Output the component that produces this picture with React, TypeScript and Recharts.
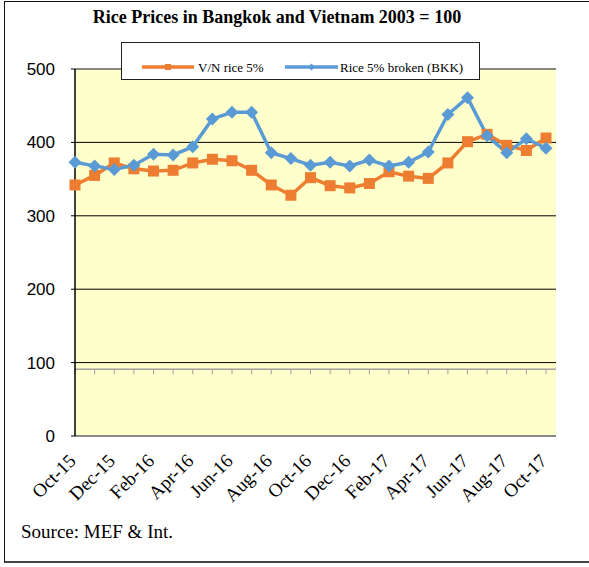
import React from 'react';
import { LineChart, Line, XAxis, YAxis, CartesianGrid, ReferenceLine } from 'recharts';

const months = [
  'Oct-15', 'Nov-15', 'Dec-15', 'Jan-16', 'Feb-16', 'Mar-16', 'Apr-16', 'May-16', 'Jun-16',
  'Jul-16', 'Aug-16', 'Sep-16', 'Oct-16', 'Nov-16', 'Dec-16', 'Jan-17', 'Feb-17', 'Mar-17',
  'Apr-17', 'May-17', 'Jun-17', 'Jul-17', 'Aug-17', 'Sep-17', 'Oct-17',
];
const vnRice = [342, 355, 372, 364, 361, 362, 372, 377, 375, 362, 342, 328, 352, 341, 338, 344, 360, 354, 351, 372, 401, 411, 396, 389, 406];
const bkkRice = [373, 368, 363, 369, 384, 383, 394, 432, 441, 441, 386, 378, 369, 373, 368, 376, 368, 373, 387, 438, 461, 409, 386, 405, 392];
const yTicks = [0, 100, 200, 300, 400, 500];
const seriesNames = ['V/N rice 5%', 'Rice 5% broken (BKK)'];
const titleText = 'Rice Prices in Bangkok and Vietnam 2003 = 100';
const sourceText = 'Source: MEF & Int.';
const crossLevel = 91;
const crossTickLow = 84;

const ORANGE = '#ED7D31';
const BLUE = '#5B9BD5';
const SERIF = '"Liberation Serif", "Times New Roman", serif';
const SANS = '"Liberation Sans", Arial, sans-serif';

const data = months.map((m, i) => ({ month: m, vn: vnRice[i], bkk: bkkRice[i] }));

const SquareDot = (props: any) => {
  const { cx, cy, index } = props;
  if (cx == null || cy == null) return <g key={`s${index}`} />;
  return <rect key={`s${index}`} x={cx - 5.5} y={cy - 5.5} width={11} height={11} fill={ORANGE} />;
};

const DiamondDot = (props: any) => {
  const { cx, cy, index } = props;
  if (cx == null || cy == null) return <g key={`d${index}`} />;
  const r = 6.5;
  return (
    <polygon
      key={`d${index}`}
      points={`${cx},${cy - r} ${cx + r},${cy} ${cx},${cy + r} ${cx - r},${cy}`}
      fill={BLUE}
    />
  );
};

const XTick = (props: any) => {
  const { x, y, payload } = props;
  return (
    <text
      x={0}
      y={0}
      transform={`translate(${x + 2},${y + 18}) rotate(-45)`}
      textAnchor="end"
      fontFamily={SERIF}
      fontSize={19}
      fill="#000"
    >
      {payload.value}
    </text>
  );
};

const LegendBox = () => (
  <div
    style={{
      position: 'absolute',
      left: 121,
      top: 42,
      width: 357,
      height: 36,
      border: '1px solid #222',
      background: '#fff',
      boxSizing: 'content-box',
    }}
  >
    <svg width={357} height={36} style={{ position: 'absolute', left: 0, top: 0 }}>
      <line x1={20} y1={24} x2={72} y2={24} stroke={ORANGE} strokeWidth={3.5} />
      <rect x={43} y={21} width={6} height={6} fill={ORANGE} />
      <text x={76} y={28.5} fontFamily={SERIF} fontSize={13} fill="#000">{seriesNames[0]}</text>
      <line x1={163} y1={24} x2={216} y2={24} stroke={BLUE} strokeWidth={3.5} />
      <polygon points="189.5,20.5 193,24 189.5,27.5 186,24" fill={BLUE} />
      <text x={218} y={28.5} fontFamily={SERIF} fontSize={13} fill="#000">{seriesNames[1]}</text>
    </svg>
  </div>
);

export default function App() {
  return (
    <div style={{ position: 'absolute', left: 0, top: 0, width: 589, height: 567, background: '#fff', overflow: 'hidden' }}>
      <div
        style={{
          position: 'absolute',
          left: 4,
          top: 1,
          width: 620,
          height: 559,
          borderLeft: '1px solid #111',
          borderTop: '1px solid #111',
          borderBottom: '2px solid #444',
        }}
      />
      <div
        style={{
          position: 'absolute',
          left: 0,
          width: 554,
          top: 8,
          textAlign: 'center',
          fontFamily: SERIF,
          fontWeight: 'bold',
          fontSize: 18,
          lineHeight: '18px',
          color: '#000',
          whiteSpace: 'nowrap',
        }}
      >
        {titleText}
      </div>
      <div style={{ position: 'absolute', left: 0, top: 0 }}>
        <LineChart width={589} height={567} data={data} margin={{ top: 69, right: 33, bottom: 71, left: 0 }}>
          <CartesianGrid vertical={false} stroke="#000" strokeWidth={1} fill="#FFFFCC" fillOpacity={1} />
          <XAxis
            dataKey="month"
            interval={1}
            height={60}
            tick={<XTick />}
            tickLine={false}
            axisLine={{ stroke: '#8a8a8a', strokeWidth: 2 }}
            padding={{ left: 0, right: 10 }}
          />
          <YAxis
            yAxisId={0}
            width={75}
            domain={[0, 500]}
            ticks={yTicks}
            interval={0}
            tickSize={4}
            tickMargin={16}
            tickLine={{ stroke: '#000' }}
            axisLine={{ stroke: '#000', strokeWidth: 1.5 }}
            tick={{ fontFamily: SANS, fontSize: 17, fill: '#000' }}
          />
          <YAxis
            yAxisId="right"
            orientation="right"
            width={0}
            domain={[0, 500]}
            ticks={yTicks}
            tick={false}
            tickLine={false}
            axisLine={{ stroke: '#8a8a8a', strokeWidth: 2 }}
          />
          <ReferenceLine yAxisId={0} y={500} stroke="#8a8a8a" strokeWidth={1.5} />
          <ReferenceLine yAxisId={0} y={crossLevel} stroke="#a0a0a0" strokeWidth={1.5} />
          {months.map((m) => (
            <ReferenceLine
              key={`t-${m}`}
              yAxisId={0}
              segment={[{ x: m, y: crossLevel }, { x: m, y: crossTickLow }]}
              stroke="#a0a0a0"
              strokeWidth={1}
            />
          ))}
          <Line
            yAxisId={0}
            type="linear"
            dataKey="vn"
            name={seriesNames[0]}
            stroke={ORANGE}
            strokeWidth={3.5}
            dot={SquareDot}
            activeDot={false}
            isAnimationActive={false}
          />
          <Line
            yAxisId={0}
            type="linear"
            dataKey="bkk"
            name={seriesNames[1]}
            stroke={BLUE}
            strokeWidth={3.5}
            dot={DiamondDot}
            activeDot={false}
            isAnimationActive={false}
          />
        </LineChart>
      </div>
      <LegendBox />
      <div
        style={{
          position: 'absolute',
          left: 21,
          top: 522,
          fontFamily: SERIF,
          fontSize: 19,
          lineHeight: '19px',
          color: '#000',
          whiteSpace: 'nowrap',
        }}
      >
        {sourceText}
      </div>
    </div>
  );
}
